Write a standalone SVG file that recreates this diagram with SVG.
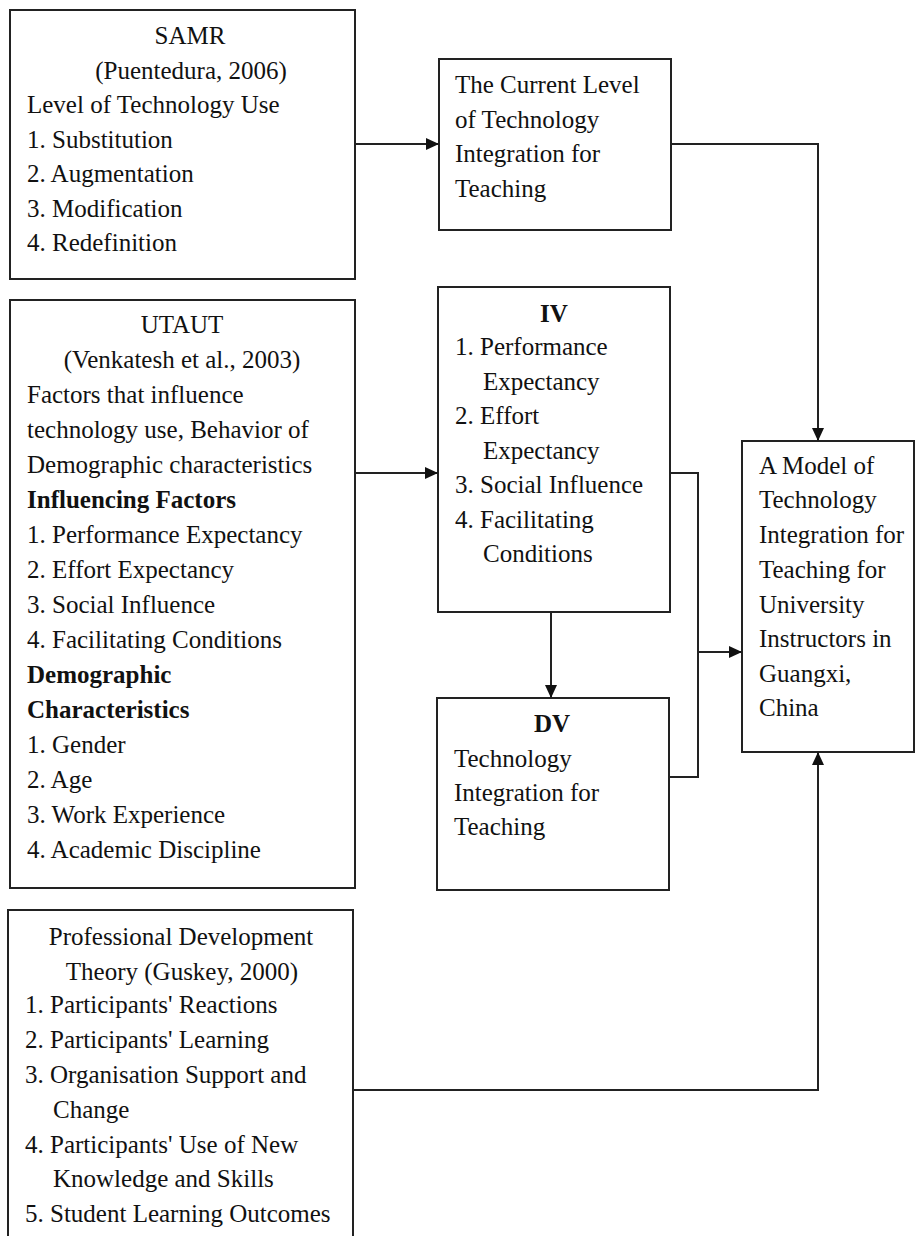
<svg xmlns="http://www.w3.org/2000/svg" width="917" height="1236" viewBox="0 0 917 1236">
<style>
.box{fill:#fff;stroke:#222;stroke-width:2}
.t{font-size:25px;fill:#111}
.c{text-anchor:middle}
.b{font-weight:bold}
.ln{fill:none;stroke:#222;stroke-width:2}
</style>
<defs>
<marker id="ah" markerUnits="userSpaceOnUse" markerWidth="14" markerHeight="12" refX="13" refY="6" orient="auto">
<path d="M0,0 L13,6 L0,12 z" fill="#111"/>
</marker>
</defs>
<rect width="917" height="1236" fill="#fff"/>
<g font-family="'Liberation Serif', 'DejaVu Serif', serif">
<g id="samr">
<rect class="box" x="10" y="10" width="345" height="269"/>
<text class="t c" x="190" y="44">SAMR</text>
<text class="t c" x="191" y="79">(Puentedura, 2006)</text>
<text class="t" x="27" y="113">Level of Technology Use</text>
<text class="t" x="27" y="148">1. Substitution</text>
<text class="t" x="27" y="182">2. Augmentation</text>
<text class="t" x="27" y="217">3. Modification</text>
<text class="t" x="27" y="251">4. Redefinition</text>
</g>

<g id="current">
<rect class="box" x="439" y="59" width="232" height="171"/>
<text class="t" x="455" y="93">The Current Level</text>
<text class="t" x="455" y="128">of Technology</text>
<text class="t" x="455" y="162">Integration for</text>
<text class="t" x="455" y="197">Teaching</text>
</g>

<g id="utaut">
<rect class="box" x="10" y="300" width="345" height="588"/>
<text class="t c" x="182" y="333">UTAUT</text>
<text class="t c" x="182" y="368">(Venkatesh et al., 2003)</text>
<text class="t" x="27" y="403">Factors that influence</text>
<text class="t" x="27" y="438">technology use, Behavior of</text>
<text class="t" x="27" y="473">Demographic characteristics</text>
<text class="t b" x="27" y="508">Influencing Factors</text>
<text class="t" x="27" y="543">1. Performance Expectancy</text>
<text class="t" x="27" y="578">2. Effort Expectancy</text>
<text class="t" x="27" y="613">3. Social Influence</text>
<text class="t" x="27" y="648">4. Facilitating Conditions</text>
<text class="t b" x="27" y="683">Demographic</text>
<text class="t b" x="27" y="718">Characteristics</text>
<text class="t" x="27" y="753">1. Gender</text>
<text class="t" x="27" y="788">2. Age</text>
<text class="t" x="27" y="823">3. Work Experience</text>
<text class="t" x="27" y="858">4. Academic Discipline</text>
</g>

<g id="iv">
<rect class="box" x="438" y="287" width="232" height="325"/>
<text class="t c b" x="554" y="322">IV</text>
<text class="t" x="455" y="355">1. Performance</text>
<text class="t" x="483" y="390">Expectancy</text>
<text class="t" x="455" y="424">2. Effort</text>
<text class="t" x="483" y="459">Expectancy</text>
<text class="t" x="455" y="493">3. Social Influence</text>
<text class="t" x="455" y="528">4. Facilitating</text>
<text class="t" x="483" y="562">Conditions</text>
</g>

<g id="dv">
<rect class="box" x="437" y="698" width="232" height="192"/>
<text class="t c b" x="552" y="732">DV</text>
<text class="t" x="454" y="767">Technology</text>
<text class="t" x="454" y="801">Integration for</text>
<text class="t" x="454" y="835">Teaching</text>
</g>

<g id="model">
<rect class="box" x="742" y="441" width="172" height="311"/>
<text class="t" x="759" y="474">A Model of</text>
<text class="t" x="759" y="508">Technology</text>
<text class="t" x="759" y="543">Integration for</text>
<text class="t" x="759" y="578">Teaching for</text>
<text class="t" x="759" y="613">University</text>
<text class="t" x="759" y="647">Instructors in</text>
<text class="t" x="759" y="682">Guangxi,</text>
<text class="t" x="759" y="716">China</text>
</g>

<g id="pd">
<rect class="box" x="8" y="910" width="345" height="340"/>
<text class="t c" x="181" y="945">Professional Development</text>
<text class="t c" x="182" y="980">Theory (Guskey, 2000)</text>
<text class="t" x="25" y="1013">1. Participants' Reactions</text>
<text class="t" x="25" y="1048">2. Participants' Learning</text>
<text class="t" x="25" y="1083">3. Organisation Support and</text>
<text class="t" x="53" y="1118">Change</text>
<text class="t" x="25" y="1153">4. Participants' Use of New</text>
<text class="t" x="53" y="1187">Knowledge and Skills</text>
<text class="t" x="25" y="1222">5. Student Learning Outcomes</text>
</g>
</g>
<g id="connectors">
<path class="ln" d="M355,144 H439" marker-end="url(#ah)"/>
<path class="ln" d="M671,144 H818 V441" marker-end="url(#ah)"/>
<path class="ln" d="M355,473 H438" marker-end="url(#ah)"/>
<path class="ln" d="M551,612 V698" marker-end="url(#ah)"/>
<path class="ln" d="M670,473 H698 V777 H669"/>
<path class="ln" d="M698,652 H742" marker-end="url(#ah)"/>
<path class="ln" d="M353,1090 H818 V752" marker-end="url(#ah)"/>
</g>
</svg>
